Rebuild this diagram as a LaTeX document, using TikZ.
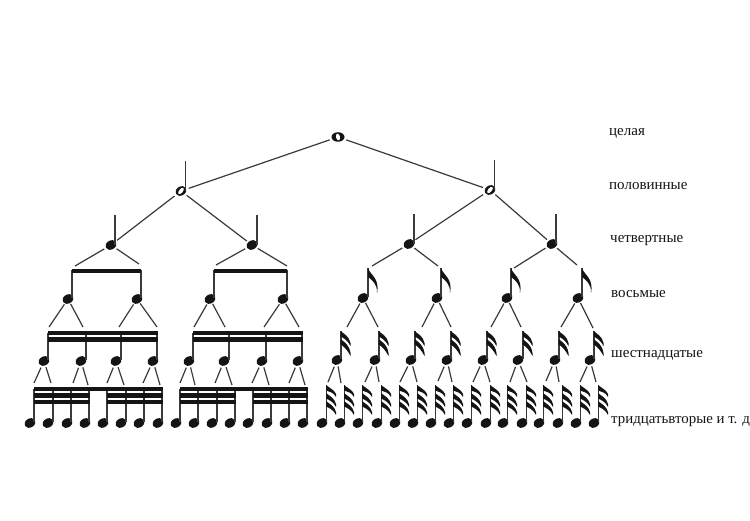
\documentclass[tikz,border=0pt]{standalone}
\usepackage{fontspec}
\setmainfont{Liberation Serif}
\usetikzlibrary{shapes.geometric}
\definecolor{ink}{HTML}{141414}
\definecolor{wire}{HTML}{3A3A3A}
\newcommand{\flagone}[2]{\fill[ink,shift={(#1,#2)}] (0,0) .. controls (2,7) and (12,10) .. (9,25) .. controls (9.5,16) and (4,12) .. (0,9) -- cycle;}
\newcommand{\flagband}[3]{\fill[ink,shift={(#1,#2)}] (-0.5,0) .. controls (3,3) and (8,5) .. (9.5,#3-3) -- (9.5,#3) .. controls (7,#3-5) and (3,7) .. (-0.5,5.5) -- cycle;}
\tikzset{
  x=1pt,y=-1pt,
  notehead/.style={ellipse,fill=ink,inner sep=0pt,minimum width=11.5pt,minimum height=9pt,rotate=30,outer sep=#1},
  wholehead/.style={ellipse,fill=ink,inner sep=0pt,minimum width=13pt,minimum height=9.5pt,outer sep=2.5pt},
  notestem/.style={draw=wire,line width=1.3pt},
  link/.style={draw=wire,line width=1.2pt},
  beam/.style={fill=ink},
  label/.style={anchor=base west,inner sep=0pt,font=\fontsize{15}{15}\selectfont,text=ink}
}
\begin{document}
\begin{tikzpicture}
\path[use as bounding box,fill=white] (0,0) rectangle (750,521);
% whole note
\node[wholehead] (w) at (338,137) {};
\fill[white,shift={(w)},rotate=105] (0,0) ellipse (3.4 and 2);
% half notes
\foreach \n/\x/\y/\s/\t in {h1/181/191/185.7/161,h2/490/190/494.5/160}{
  \node[notehead=2.5pt] (\n) at (\x,\y) {};
  \draw[notestem] (\s,\y) -- (\s,\t);
  \fill[white,shift={(\n)},rotate=50] (0,0) ellipse (3.8 and 1.9);
}
% quarter notes
\foreach \n/\x/\y/\s/\t in {q1/111/245/115/215,q2/252/245/257/215,q3/409/244/414/214,q4/552/244/556/214}{
  \node[notehead=2pt] (\n) at (\x,\y) {};
  \draw[notestem] (\s,\y) -- (\s,\t);
}
% eighth notes
\foreach \n/\x/\s in {e1/68/72,e2/137/141,e3/210/214,e4/283/287}{
  \node[notehead=1pt] (\n) at (\x,299) {};
  \draw[notestem] (\s,298) -- (\s,270);
}
\fill[beam] (72,269) rectangle (141,273.5);
\fill[beam] (214,269) rectangle (287,273.5);
\foreach \n/\x/\s in {e5/363/368,e6/437/441,e7/507/511,e8/578/582}{
  \node[notehead=1pt] (\n) at (\x,298) {};
  \draw[notestem] (\s,297) -- (\s,268);
  \flagone{\s}{268}
}
% sixteenth notes
\foreach \n/\x/\s in {s1/44/48,s2/81/86,s3/116/121,s4/153/157,s5/189/193,s6/224/229,s7/262/266,s8/298/302}{
  \node[notehead=2pt] (\n) at (\x,361) {};
  \draw[notestem] (\s,360) -- (\s,333);
}
\foreach \a/\b in {48/157,193/302}{
  \fill[beam] (\a-0.5,331.5) rectangle (\b+0.5,335);
  \fill[beam] (\a-0.5,337) rectangle (\b+0.5,342);
}
\foreach \n/\x/\s in {s9/337/341,s10/375/379,s11/411/415,s12/447/451,s13/483/487,s14/518/523,s15/555/559,s16/590/594}{
  \node[notehead=2pt] (\n) at (\x,360) {};
  \draw[notestem] (\s,359) -- (\s,331);
  \flagband{\s}{331}{15}
  \flagband{\s}{339}{17}
}
% thirty-second notes
\foreach \n/\x/\s in {t1/30/34,t2/48/53,t3/67/71,t4/85/89,t5/103/107,t6/121/126,t7/139/144,t8/158/162,t9/176/180,t10/194/198,t11/212/217,t12/230/235,t13/248/253,t14/267/271,t15/285/289,t16/303/307}{
  \node[notehead=0pt] (\n) at (\x,423) {};
  \draw[notestem] (\s,422) -- (\s,389);
}
\foreach \a/\b/\c/\d in {34/89/107/162,180/235/253/307}{
  \fill[beam] (\a-0.5,387.5) rectangle (\d+0.5,391);
  \fill[beam] (\a-0.5,393) rectangle (\b+0.5,398);
  \fill[beam] (\a-0.5,399.5) rectangle (\b+0.5,403.5);
  \fill[beam] (\c-0.5,393) rectangle (\d+0.5,398);
  \fill[beam] (\c-0.5,399.5) rectangle (\d+0.5,403.5);
}
\foreach \x [count=\i from 17] in {322,340,358,377,395,413,431,449,467,486,503,522,539,558,576,594}{
  \node[notehead=0pt] (t\i) at (\x,423) {};
  \draw[notestem] (\x+4.5,422) -- (\x+4.5,385);
  \flagband{\x+4.5}{385}{12}
  \flagband{\x+4.5}{393}{14}
  \flagband{\x+4.5}{401}{14}
}
% connectors
\draw[link] (w) -- (h1);
\draw[link] (w) -- (h2);
\draw[link] (h1) -- (q1);
\draw[link] (h1) -- (q2);
\draw[link] (h2) -- (q3);
\draw[link] (h2) -- (q4);
% free ends above the eighth notes
\foreach \p/\i/\x/\y in {q1/1/75/266,q1/2/139/264,q2/3/216/265,q2/4/287/266,q3/5/372/266,q3/6/438/266,q4/7/514/268,q4/8/577/265}{
  \coordinate (a\i) at (\x,\y);
  \draw[link] (\p) -- (a\i);
}
% free ends above the sixteenth notes
\foreach \p/\i/\x/\y in {e1/1/49/327,e1/2/83/327,e2/3/119/327,e2/4/157/327,e3/5/194/327,e3/6/225/327,e4/7/264/327,e4/8/299/327,e5/9/347/327,e5/10/378/327,e6/11/422/327,e6/12/451/327,e7/13/491/327,e7/14/521/327,e8/15/561/327,e8/16/593/328}{
  \coordinate (b\i) at (\x,\y);
  \draw[link] (\p) -- (b\i);
}
% free ends above the thirty-second notes
\foreach \p/\i/\x/\y in {s1/1/34/383,s1/2/51/383,s2/3/73/383,s2/4/88/385,s3/5/107/383,s3/6/124/385,s4/7/143/383,s4/8/160/385,s5/9/180/383,s5/10/195/385,s6/11/215/383,s6/12/232/385,s7/13/252/383,s7/14/269/385,s8/15/289/383,s8/16/305/385,s9/17/328/382,s9/18/341/383,s10/19/365/382,s10/20/379/382,s11/21/400/382,s11/22/417/382,s12/23/438/381,s12/24/452/382,s13/25/473/382,s13/26/490/382,s14/27/510/382,s14/28/527/382,s15/29/546/381,s15/30/559/382,s16/31/580/382,s16/32/596/382}{
  \coordinate (c\i) at (\x,\y);
  \draw[link] (\p) -- (c\i);
}
% labels
\node[label] (l1) at (609,136) {целая};
\node[label] (l2) at (609,189.5) {половинные};
\node[label] (l3) at (610,243) {четвертные};
\node[label] (l4) at (611,298) {восьмые};
\node[label] (l5) at (611,358) {шестнадцатые};
\node[label,font=\fontsize{14.9}{15}\selectfont] (l6) at (611,423) {тридцатьвторые и т. д};
\end{tikzpicture}
\end{document}
